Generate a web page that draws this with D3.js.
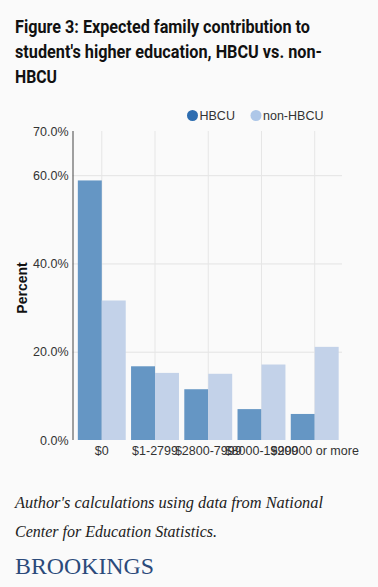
<!DOCTYPE html>
<html>
<head>
<meta charset="utf-8">
<script src="https://cdn.jsdelivr.net/npm/d3@7"></script>
<style>
  html, body { margin: 0; padding: 0; background: #fafafa; }
  svg { display: block; }
</style>
</head>
<body>
<div id="chart"></div>
<script>
// data
const categories = ['$0', '$1-2799', '$2800-7999', '$8000-19999', '$20000 or more']
const seriesNames = ['HBCU', 'non-HBCU']
const hbcu = [58.8, 16.7, 11.5, 7.0, 5.9]
const nonHbcu = [31.6, 15.2, 15.0, 17.1, 21.1]
const yTicks = [0, 20, 40, 60, 70]
const titleLines = [
  'Figure 3: Expected family contribution to',
  "student's higher education, HBCU vs. non-",
  'HBCU'
]
const sourceLines = [
  "Author's calculations using data from National",
  'Center for Education Statistics.'
]

const W = 378
const H = 587
const margin = { top: 131, right: 34, bottom: 147, left: 72.5 }

const legendColors = ['#2d6db0', '#aec7e8']
const barColors = ['#6596c4', '#c3d2e9']

const svg = d3.select('#chart').append('svg')
  .attr('width', W)
  .attr('height', H)

svg.append('rect')
  .attr('width', W)
  .attr('height', H)
  .attr('fill', '#fafafa')

// title (condensed face squeezed to the widths in the figure)
const titleWidths = [295, 307, 42]
titleLines.forEach((t, i) => {
  svg.append('text')
    .attr('x', 15)
    .attr('y', 33 + i * 25)
    .attr('font-family', 'Roboto, "Liberation Sans", sans-serif')
    .attr('font-weight', 'bold')
    .attr('font-size', 18)
    .attr('fill', '#111')
    .attr('textLength', titleWidths[i])
    .attr('lengthAdjust', 'spacingAndGlyphs')
    .text(t)
})

const innerW = W - margin.left - margin.right
const innerH = H - margin.top - margin.bottom

const g = svg.append('g')
  .attr('transform', `translate(${margin.left}, ${margin.top})`)

const x0 = d3.scaleBand()
  .domain(categories)
  .range([0, innerW])
  .paddingInner(0.1)
  .paddingOuter(0.1)

const x1 = d3.scaleBand()
  .domain(seriesNames)
  .range([0, x0.bandwidth()])

const y = d3.scaleLinear()
  .domain([0, 70])
  .range([innerH, 0])

// grid
g.append('g')
  .selectAll('line')
  .data(yTicks.filter(d => d > 0 && d < 70))
  .enter().append('line')
  .attr('x1', 0)
  .attr('x2', innerW - 2)
  .attr('y1', d => y(d) + 0.5)
  .attr('y2', d => y(d) + 0.5)
  .style('stroke', '#e3e3e3')

g.append('g')
  .selectAll('line')
  .data(categories)
  .enter().append('line')
  .attr('x1', d => x0(d) + x0.bandwidth() / 2)
  .attr('x2', d => x0(d) + x0.bandwidth() / 2)
  .attr('y1', 0)
  .attr('y2', innerH)
  .style('stroke', '#e6e6e6')

// bars
const rows = categories.map((c, i) => ({ key: c, values: [hbcu[i], nonHbcu[i]] }))

g.append('g')
  .selectAll('g')
  .data(rows)
  .enter().append('g')
  .attr('transform', d => `translate(${x0(d.key)}, 0)`)
  .selectAll('rect')
  .data(d => d.values.map((v, j) => ({ s: seriesNames[j], v, j })))
  .enter().append('rect')
  .attr('x', d => x1(d.s))
  .attr('y', d => y(d.v))
  .attr('width', x1.bandwidth())
  .attr('height', d => innerH - y(d.v))
  .style('fill', d => barColors[d.j])

// axes
const yAxis = d3.axisLeft(y)
  .tickValues(yTicks)
  .tickSize(0)
  .tickPadding(4)
  .tickFormat(d => d3.format('.1f')(d) + '%')

g.append('g')
  .call(yAxis)
  .call(s => s.select('.domain').attr('stroke', '#444').attr('d', `M0.5,0V${innerH}`))
  .selectAll('text')
  .attr('font-family', '"Liberation Sans", Arial, sans-serif')
  .attr('font-size', 12.5)
  .attr('fill', '#333')

const xAxis = d3.axisBottom(x0)
  .tickSize(0)
  .tickPadding(6)

g.append('g')
  .attr('transform', `translate(0, ${innerH})`)
  .call(xAxis)
  .call(s => s.select('.domain').remove())
  .selectAll('text')
  .attr('font-family', '"Liberation Sans", Arial, sans-serif')
  .attr('font-size', 12.5)
  .attr('fill', '#333')

// y label
svg.append('text')
  .attr('transform', `translate(27, 288) rotate(-90)`)
  .attr('text-anchor', 'middle')
  .attr('font-family', '"Liberation Sans", Arial, sans-serif')
  .attr('font-weight', 'bold')
  .attr('font-size', 14)
  .attr('fill', '#111')
  .text('Percent')

// legend
const legendX = [192.5, 256]
const legend = svg.append('g')
  .selectAll('g')
  .data(seriesNames)
  .enter().append('g')
  .attr('transform', (d, i) => `translate(${legendX[i]}, 115.5)`)

legend.append('circle')
  .attr('r', 5.5)
  .style('fill', (d, i) => legendColors[i])

legend.append('text')
  .attr('x', 7)
  .attr('dy', '0.35em')
  .attr('font-family', '"Liberation Sans", Arial, sans-serif')
  .attr('font-size', 12.5)
  .attr('fill', '#333')
  .text(d => d)

// source
const sourceWidths = [308, 202]
sourceLines.forEach((t, i) => {
  svg.append('text')
    .attr('x', 15)
    .attr('y', 508 + i * 29)
    .attr('font-family', '"Liberation Serif", "DejaVu Serif", serif')
    .attr('font-style', 'italic')
    .attr('font-size', 16.5)
    .attr('fill', '#222')
    .attr('textLength', sourceWidths[i])
    .attr('lengthAdjust', 'spacingAndGlyphs')
    .text(t)
})

svg.append('text')
  .attr('x', 15)
  .attr('y', 574)
  .attr('font-family', '"Liberation Serif", "DejaVu Serif", serif')
  .attr('font-size', 23.5)
  .attr('fill', '#2b4a7a')
  .attr('textLength', 139)
  .attr('lengthAdjust', 'spacingAndGlyphs')
  .text('BROOKINGS')
</script>
</body>
</html>
